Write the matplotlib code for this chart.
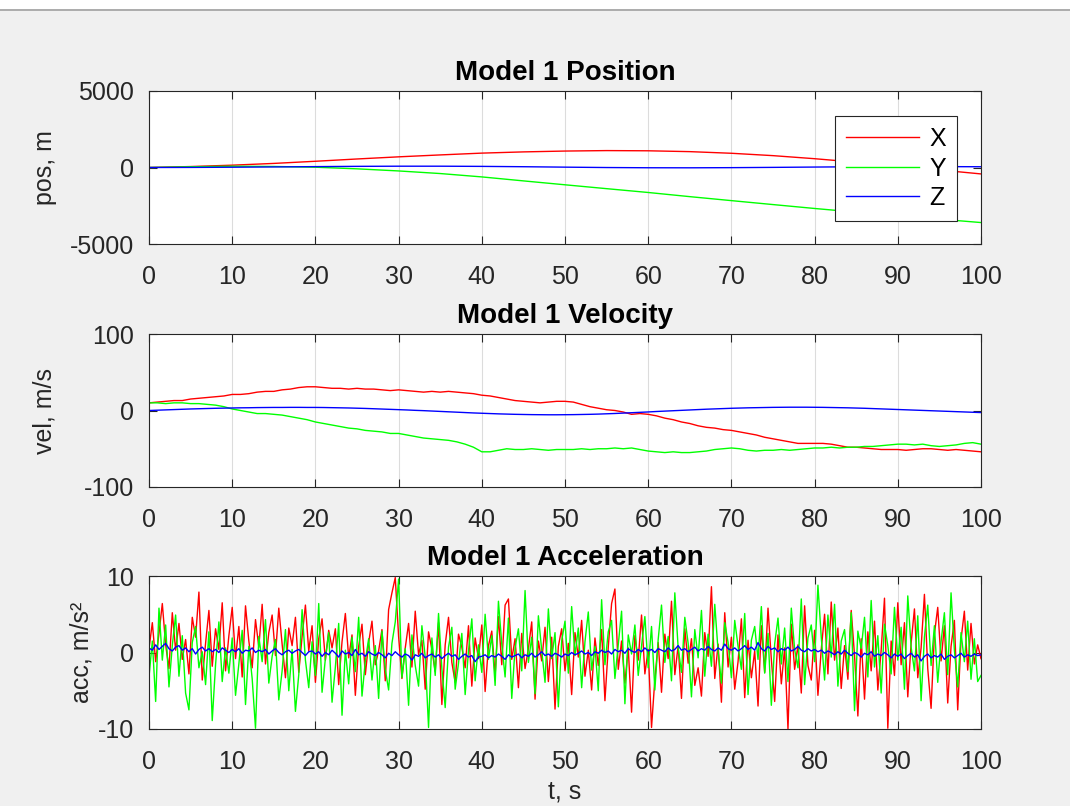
import numpy as np
import matplotlib.pyplot as plt
from matplotlib.patches import Rectangle
from matplotlib.lines import Line2D

plt.rcParams['font.family'] = ['Liberation Sans', 'DejaVu Sans']
plt.rcParams['axes.unicode_minus'] = False

# position, sampled every 5 s
t_pos = [0, 5, 10, 15, 20, 25, 30, 35, 40, 45, 50, 55, 60, 65, 70, 75, 80, 85, 90, 95, 100]
pos_x = [0, 62, 152, 267, 407, 557, 697, 822, 940, 1020, 1075, 1105, 1092, 1037, 930,
         775, 575, 345, 95, -160, -420]
pos_y = [0, 48, 83, 68, 18, -87, -225, -395, -615, -875, -1130, -1383, -1633, -1905,
         -2165, -2423, -2678, -2920, -3150, -3375, -3598]
pos_z = [0, 5, 18, 37, 57, 75, 85, 85, 73, 51, 23, -2, -17, -20, -10, 8, 29, 48, 59, 59, 49]

# velocity, sampled every 1 s
t_vel = list(range(101))
vel_x = [10, 11, 12, 13, 13, 15, 16, 17, 18, 19, 21,
         21, 22, 24, 25, 25, 27, 28, 30, 31, 31,
         30, 29, 29, 28, 29, 28, 28, 27, 26, 27,
         26, 25, 24, 25, 24, 25, 24, 23, 22, 20,
         19, 17, 15, 13, 12, 11, 10, 11, 12, 12,
         11, 8, 5, 3, 1, 0, -2, -5, -4, -5,
         -7, -10, -12, -15, -17, -20, -22, -23, -25, -26,
         -28, -30, -32, -35, -37, -39, -41, -43, -43, -43,
         -43, -44, -46, -48, -48, -49, -50, -51, -51, -51,
         -52, -51, -50, -50, -51, -52, -51, -52, -53, -54]
vel_y = [10, 10, 9, 10, 10, 9, 9, 8, 7, 5, 2,
         0, -2, -4, -4, -5, -6, -8, -10, -12, -15,
         -17, -19, -21, -23, -24, -26, -27, -28, -30, -30,
         -32, -34, -36, -37, -38, -39, -41, -44, -48, -54,
         -54, -52, -50, -51, -51, -50, -51, -52, -51, -51,
         -51, -50, -51, -50, -50, -49, -50, -49, -51, -53,
         -54, -55, -54, -55, -55, -54, -53, -51, -50, -49,
         -50, -52, -53, -52, -52, -51, -52, -51, -50, -49,
         -49, -48, -49, -48, -48, -47, -47, -46, -45, -44,
         -44, -45, -44, -46, -47, -46, -45, -43, -42, -44]
vel_z = [0, 0.4, 0.8, 1.2, 1.6, 2.0, 2.3, 2.6, 2.9, 3.1, 3.3,
         3.5, 3.6, 3.8, 3.9, 4.0, 4.0, 4.1, 4.1, 4.0, 4.0,
         3.9, 3.7, 3.5, 3.3, 3.0, 2.7, 2.3, 1.9, 1.5, 1.1,
         0.7, 0.2, -0.2, -0.7, -1.2, -1.7, -2.2, -2.7, -3.2, -3.6,
         -4.0, -4.4, -4.7, -5.0, -5.2, -5.4, -5.5, -5.6, -5.6, -5.5,
         -5.4, -5.2, -5.0, -4.7, -4.3, -3.9, -3.4, -2.9, -2.4, -1.9,
         -1.3, -0.8, -0.3, 0.2, 0.7, 1.2, 1.7, 2.1, 2.5, 2.9,
         3.2, 3.5, 3.7, 3.9, 4.1, 4.2, 4.3, 4.3, 4.3, 4.2,
         4.1, 3.9, 3.7, 3.5, 3.2, 2.9, 2.5, 2.1, 1.7, 1.3,
         0.9, 0.5, 0.1, -0.3, -0.7, -1.1, -1.5, -1.9, -2.3, -2.7]

# acceleration, sampled every 0.4 s
t_acc = np.linspace(0, 100, 251)
acc_x = [0.5, 3.9, -1.2, 2.5, 6.4, 1.0, -2.1, 5.2, 0.3, 3.8, -0.9, 1.7, -2.8, 4.6, 2.0, 7.9, -3.6, 1.2, 5.5, -1.8, 3.1, 0.4, 6.5, -2.4, 2.2,
         5.9, -0.8, 3.4, -3.2, 6.1, 1.5, -2.0, 4.3, 0.7, 6.3, -1.5, 2.6, 4.9, -0.4, 5.8, 1.1, -3.3, 3.2, 0.9, 4.6, -2.6, 2.1, 6.2, 0.2, 3.5,
         -3.9, 1.8, 4.4, -1.0, 2.9, 0.6, 3.1, -4.2, 1.4, 5.1, -0.7, 2.3, -5.6, 0.8, 3.7, -2.9, 1.3, 4.1, -1.6, 0.2, 3.0, -3.7, 5.6, 7.8, 9.8,
         2.1, -3.4, 0.6, 3.8, -1.9, 5.4, -0.3, 1.6, -4.8, 2.7, 0.4, -2.5, 3.9, -6.8, 1.0, 4.6, -1.3, -3.9, 2.4, 0.7, -2.0, 3.5, -4.4, 1.9, -0.8,
         3.6, -5.1, 0.9, 2.8, -3.0, 4.7, -1.6, 6.2, 7.0, -0.9, 1.8, -4.6, 2.5, -2.1, 0.5, 4.0, -6.1, 1.5, -1.1, 3.3, -3.8, 2.0, -7.4, 0.8, 3.1,
         -2.4, 1.2, -5.5, 2.6, -0.6, 4.2, -3.1, 0.3, -4.9, 1.9, -1.7, 3.0, -6.3, 0.7, 6.4, 8.3, -2.2, 1.5, -4.0, 0.6, -7.8, 2.2, -1.0, 4.9, -2.8,
         0.4, -9.8, -3.5, 1.3, -5.2, 2.4, -0.8, 6.7, -2.9, 0.9, -6.0, 3.1, -1.4, 1.8, -4.3, -2.0, -5.7, 2.6, -0.5, 8.6, -3.4, 1.1, -6.5, 5.2, -1.9,
         2.0, -4.8, -1.2, 4.4, -5.9, 1.6, -3.3, 0.2, -7.0, 3.5, -2.6, 5.8, -0.9, -6.4, 2.3, -4.1, 0.6, -10.0, 3.7, -2.2, 1.0, -5.3, 6.1, -1.7, -3.6,
         2.9, -5.6, 0.4, 5.0, -2.8, 6.6, -1.0, 3.2, -4.7, 0.9, -3.5, 5.5, -0.4, -8.3, 1.8, -6.1, 2.7, -2.4, 4.1, -4.9, 0.3, 7.1, -9.9, 1.5, -3.0,
         6.5, -1.6, 3.9, -5.8, 1.2, 5.7, -3.3, 0.6, 7.6, -2.1, -7.3, 2.4, 5.9, -1.1, 3.5, -6.6, 0.8, 4.2, -7.5, 1.7, 5.4, -2.3, 3.8, -1.5, 1.0, -0.8]
acc_y = [-3.2, 1.5, -6.4, 5.8, -1.0, 3.6, -4.5, 0.9, 4.9, -3.1, 2.2, -5.3, -7.5, 1.3, 3.4, -2.0, 0.1, -4.2, 2.7, -8.9, -1.6, 4.0, -3.8, 0.6, -2.7,
         1.9, -5.6, -1.5, 2.9, -6.8, 0.8, -3.4, -9.9, 2.1, -1.2, 4.3, -4.0, -0.5, 1.7, -6.2, -2.4, 3.0, -5.0, 0.4, -7.7, -2.9, 5.6, -1.0, -4.6, 1.4,
         -3.0, 6.4, -5.2, -0.8, 2.6, -6.5, -1.9, 3.8, -8.2, 0.3, -4.1, 2.0, -2.5, 4.6, -5.7, -1.1, 1.8, -3.6, 0.9, -6.0, 2.8, -2.2, -4.9, 1.2, 4.0,
         9.6, -3.3, 0.5, -6.9, 2.3, -1.7, -4.4, 3.5, -0.6, -9.8, 1.9, -3.0, 5.1, -2.1, -7.2, 0.7, 3.3, -4.8, -1.4, 2.5, -5.5, 0.2, 4.4, -3.7, 1.0,
         -2.6, 5.0, -0.9, 2.2, -4.3, 6.7, 1.1, -3.2, 4.5, -6.0, 0.6, 3.1, -2.4, 8.1, -1.3, 2.0, -5.4, 4.8, 0.3, -3.9, 5.7, -0.8, 2.6, -7.1, 1.5,
         4.1, -2.7, 6.0, -0.4, 3.2, -4.6, 1.4, 5.3, -2.3, 0.8, -5.0, 6.9, -1.6, 2.7, 4.2, -3.4, 1.0, 5.4, -6.7, 2.3, -0.2, 3.6, -3.0, 0.9, 4.7,
         -2.0, 3.4, -4.9, 1.7, 6.2, -1.3, 2.1, -3.7, 7.8, 0.6, -2.6, 4.6, 1.2, -5.8, 3.0, -0.7, 5.5, -3.1, 2.4, -1.8, 6.3, 0.2, -4.0, 3.9, 1.3,
         -3.3, 4.2, 0.8, -2.2, 5.1, -5.5, 1.6, 3.4, -0.9, 6.0, -2.7, 2.5, -6.9, 1.1, 4.5, -1.5, 3.2, -3.8, 5.8, 0.4, -2.0, 7.0, -4.2, 1.9, 3.6,
         -1.2, 8.8, 2.0, -3.6, 4.9, -0.6, 6.3, -4.4, 1.5, 3.0, -2.5, 5.2, -7.6, 2.8, 0.5, 4.6, -3.2, 6.8, -1.9, 2.2, -5.3, 3.7, 0.9, -2.8, 5.9,
         -1.0, 3.3, -4.8, 7.4, 0.7, -2.4, 4.8, -6.3, 2.0, 6.2, -1.7, 3.5, -3.9, 1.4, 5.2, -2.9, 7.8, 0.3, -4.5, 2.6, -1.2, 4.1, -3.5, 1.8, -3.8, -3.0]
acc_z = [0.6, 0.3, 1.0, 0.4, 0.8, 1.2, 0.5, 0.2, 0.7, 0.9, 0.3, 0.6, 0.1, 0.5, -0.2, 0.4, 0.7, 0.2, 0.5, 0.1, 0.4, 0.0, 0.6, 0.3, 0.0,
         0.4, 0.1, 0.5, -0.1, 0.3, 0.2, 0.6, 0.0, 0.3, 0.1, 0.4, -0.2, 0.2, 0.5, 0.0, -0.3, 0.1, 0.3, -0.1, 0.2, 0.4, 0.0, -0.4, 0.1, 0.2,
         -0.2, 0.1, -0.5, 0.0, -0.3, 0.3, -0.1, -0.6, 0.2, -0.2, 0.0, -0.4, 0.4, -0.3, -0.1, -0.5, 0.1, -0.2, -0.4, 0.0, -0.3, -0.7, -0.1, -0.4, 0.1,
         -0.3, -0.6, -0.2, -0.4, -1.0, -0.3, -0.5, -0.1, -0.7, -0.4, -0.2, -0.6, -0.3, -0.8, -0.4, -0.1, -0.5, -0.3, -0.9, -0.5, -0.2, -0.6, -0.4, -1.2, -0.6,
         -0.5, -0.3, -0.7, -0.4, -0.6, -0.2, -0.5, -0.9, -0.3, -0.6, -0.4, -0.2, -0.7, -0.3, -0.5, -0.1, -0.6, -0.3, 0.1, -0.4, -0.2, -0.5, -0.1, -0.3, -0.6,
         -0.2, -0.4, 0.0, -0.3, -0.1, 0.2, -0.2, 0.0, -0.4, 0.1, -0.1, 0.3, 0.0, 0.2, -0.2, 0.4, 0.1, 0.3, -0.1, 0.5, 0.2, 0.0, 0.4, 0.1, 0.6,
         0.2, 0.4, 0.0, 0.5, 0.3, 0.1, 0.6, 0.2, 0.4, 0.9, 0.3, 0.5, 0.1, 0.4, 0.7, 0.2, 0.5, 0.3, 0.8, 0.4, 0.2, 0.6, 0.3, 1.1, 0.5,
         0.3, 0.6, 0.2, 0.5, 0.9, 0.4, 0.7, 0.3, 1.3, 0.5, 0.2, 0.8, 0.4, 0.6, 0.1, 0.5, 0.3, 0.7, 0.2, 0.4, 0.8, 0.3, 0.1, 0.5, 0.2,
         0.4, 0.1, 0.3, -0.1, 0.2, 0.0, -0.3, 0.1, -0.2, 0.3, -0.1, -0.4, 0.0, -0.2, -0.6, -0.1, -0.3, 0.1, -0.5, -0.2, -0.4, 0.0, -0.3, -0.7, -0.2,
         -0.5, -0.2, -0.8, -0.4, -0.1, -0.6, -0.3, -1.1, -0.5, -0.2, -0.7, -0.4, -0.6, -0.2, -0.9, -0.5, -0.3, -0.7, -0.4, -0.1, -0.6, -0.3, -0.5, -0.2, -0.4, -0.3]

fs = 18
tick_col = '#262626'
lw = 1.0

fig = plt.figure(figsize=(10.7, 8.06), dpi=100, facecolor='#f0f0f0')
# white strip at the very top of the window grab
fig.patches.append(Rectangle((0, 1 - 9 / 806), 1, 9 / 806, transform=fig.transFigure,
                             facecolor='white', edgecolor='none'))
fig.add_artist(Line2D([0, 1], [1 - 9.5 / 806, 1 - 9.5 / 806], transform=fig.transFigure,
                      color='#a0a0a0', lw=1.2))

left, width, height = 149 / 1070, 832 / 1070, 153 / 806
ax1 = fig.add_axes([left, 1 - 244 / 806, width, height])
ax2 = fig.add_axes([left, 1 - 487 / 806, width, height])
ax3 = fig.add_axes([left, 1 - 729 / 806, width, height])


def style(ax, ylim, title, ylabel, label_x):
    ax.set_facecolor('white')
    ax.set_xlim(0, 100)
    ax.set_ylim(*ylim)
    ax.set_xticks(range(0, 101, 10))
    ax.set_yticks([ylim[0], 0, ylim[1]])
    ax.grid(axis='x', color='#dcdcdc', lw=0.8)
    ax.set_axisbelow(True)
    ax.tick_params(direction='in', length=6, width=0.8, colors=tick_col,
                   labelsize=fs, top=True, right=True)
    ax.tick_params(axis='x', pad=15)
    ax.tick_params(axis='y', pad=11)
    for s in ax.spines.values():
        s.set_color(tick_col)
        s.set_linewidth(0.8)
    ax.set_title(title, fontsize=fs + 2, fontweight='bold', pad=8)
    ax.set_ylabel(ylabel, fontsize=fs, color=tick_col)
    ax.yaxis.set_label_coords(label_x, 0.5)


ax1.plot(t_pos, pos_x, color='#ff0000', lw=lw, label='X')
ax1.plot(t_pos, pos_y, color='#00ff00', lw=lw, label='Y')
ax1.plot(t_pos, pos_z, color='#0000ff', lw=lw, label='Z')
style(ax1, (-5000, 5000), 'Model 1 Position', 'pos, m', -0.111)
leg = ax1.legend(loc='upper right', bbox_to_anchor=(0.971, 0.837), fontsize=fs,
                 fancybox=False, framealpha=1, edgecolor=tick_col, handlelength=2.9,
                 handletextpad=0.4, borderpad=0.45, labelspacing=0.22, borderaxespad=0)
leg.get_frame().set_linewidth(0.8)

ax2.plot(t_vel, vel_x, color='#ff0000', lw=lw)
ax2.plot(t_vel, vel_y, color='#00ff00', lw=lw)
ax2.plot(t_vel, vel_z, color='#0000ff', lw=lw)
style(ax2, (-100, 100), 'Model 1 Velocity', 'vel, m/s', -0.111)

ax3.plot(t_acc, acc_x, color='#ff0000', lw=lw)
ax3.plot(t_acc, acc_y, color='#00ff00', lw=lw)
ax3.plot(t_acc, acc_z, color='#0000ff', lw=lw)
style(ax3, (-10, 10), 'Model 1 Acceleration', 'acc, m/s²', -0.067)
ax3.set_xlabel('t, s', fontsize=fs, color=tick_col, labelpad=4)

fig.savefig('out.png', dpi=100, facecolor=fig.get_facecolor())
